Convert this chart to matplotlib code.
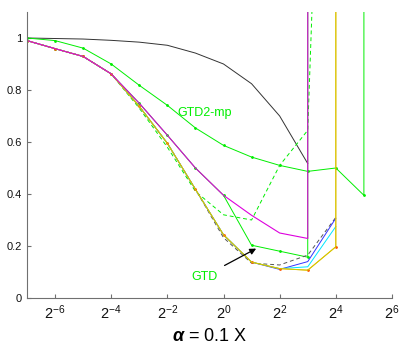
import numpy as np
import matplotlib
matplotlib.use('Agg')
import matplotlib.pyplot as plt

plt.rcParams['font.family'] = ['Liberation Sans', 'DejaVu Sans']
plt.rcParams['mathtext.fontset'] = 'custom'
plt.rcParams['mathtext.rm'] = 'Liberation Sans'
plt.rcParams['mathtext.it'] = 'Liberation Sans:italic'
plt.rcParams['mathtext.bf'] = 'Liberation Sans:bold'
plt.rcParams['mathtext.bfit'] = 'Liberation Sans:bold:italic'
plt.rcParams['mathtext.default'] = 'regular'

BIG = 1000.0  # runs off the top of the plot
nan = np.nan

# exponents of the step size, x = 2**k
k = [-7, -6, -5, -4, -3, -2, -1, 0, 1, 2, 3, 4, 5, 6]

td_black = [1.0, 0.998, 0.996, 0.991, 0.984, 0.972, 0.942, 0.90, 0.824, 0.70, 0.517, nan, nan, nan]
gtd2_mp = [1.0, 0.99, 0.961, 0.90, 0.818, 0.741, 0.654, 0.587, 0.542, 0.51, 0.487, 0.50, 0.395, BIG]
gtd = [0.99, 0.959, 0.929, 0.862, 0.749, 0.626, 0.50, 0.395, 0.203, 0.18, 0.157, BIG, nan, nan]
magenta = [0.99, 0.959, 0.929, 0.862, 0.749, 0.626, 0.50, 0.395, 0.318, 0.25, 0.229, BIG, nan, nan]
green_dash = [0.99, 0.959, 0.929, 0.862, 0.73, 0.58, 0.41, 0.32, 0.30, 0.51, 0.645, 3.7, nan, nan]
gray_dash = [0.99, 0.959, 0.929, 0.862, 0.737, 0.595, 0.418, 0.232, 0.134, 0.127, 0.165, 0.31, nan, nan]
blue = [0.99, 0.959, 0.929, 0.862, 0.737, 0.595, 0.418, 0.243, 0.138, 0.11, 0.14, 0.307, nan, nan]
cyan = [0.99, 0.959, 0.929, 0.862, 0.737, 0.595, 0.418, 0.243, 0.138, 0.113, 0.12, 0.275, nan, nan]
orange = [0.99, 0.959, 0.929, 0.862, 0.737, 0.595, 0.418, 0.243, 0.138, 0.113, 0.107, 0.197, BIG, nan]
yellow = [0.99, 0.959, 0.929, 0.862, 0.737, 0.595, 0.418, 0.243, 0.138, 0.113, 0.107, 0.197, BIG, nan]

ytick_vals = [0, 0.2, 0.4, 0.6, 0.8, 1.0]
ytick_labels = ['0', '0.2', '0.4', '0.6', '0.8', '1']
xtick_exps = [-6, -4, -2, 0, 2, 4, 6]

x = 2.0 ** np.array(k)

fig = plt.figure(figsize=(4.15, 3.58), dpi=100)
ax = fig.add_axes([0.065, 0.1676, 0.8795, 0.7989])

lw = 0.7
ms = 2
ax.plot(x, td_black, '-', color='#333333', lw=lw)
ax.plot(x, gtd2_mp, '.-', color='#00ee00', lw=lw, ms=ms)
ax.plot(x, gtd, '.-', color='#00ee00', lw=lw, ms=ms)
ax.plot(x, green_dash, '--', color='#00ee00', lw=lw, dashes=(4, 3))
ax.plot(x, gray_dash, '--', color='#555555', lw=lw, dashes=(4, 3))
ax.plot(x, blue, '-', color='#3333ff', lw=lw)
ax.plot(x, cyan, '-', color='#00e5ff', lw=lw)
ax.plot(x, orange, '.-', color='#ffaa00', lw=lw, ms=ms, mfc='#ff5500', mec='#ff5500')
ax.plot(x, yellow, '-', color='#cccc00', lw=lw)
ax.plot(x, magenta, '-', color='#dd00dd', lw=0.8)

ax.set_xscale('log', base=2)
ax.set_xlim(2.0 ** -7, 2.0 ** 6)
ax.set_ylim(0, 1.1)

ax.set_xticks([2.0 ** e for e in xtick_exps])
ax.set_xticklabels(['$2^{%d}$' % e for e in xtick_exps])
ax.xaxis.set_minor_locator(matplotlib.ticker.NullLocator())
ax.set_yticks(ytick_vals)
ax.set_yticklabels(ytick_labels)

for s in ['top', 'right']:
    ax.spines[s].set_visible(False)
for s in ['left', 'bottom']:
    ax.spines[s].set_color('#707070')
    ax.spines[s].set_linewidth(0.8)
ax.tick_params(direction='in', length=3, width=0.8, color='#707070',
               labelsize=8, labelcolor='#111111')
ax.tick_params(axis='x', labelsize=10.5, pad=4)

ax.text(2.0 ** -1.65, 0.70, 'GTD2-mp', color='#00ee00', fontsize=9)
ax.text(2.0 ** -1.15, 0.07, 'GTD', color='#00ee00', fontsize=9)
ax.annotate('', xy=(2.0 ** 1.25, 0.195), xytext=(2.0 ** -0.05, 0.12),
            arrowprops=dict(arrowstyle='-|>', color='black', lw=0.9,
                            mutation_scale=9))

ax.set_xlabel(r'$\boldsymbol{\alpha}$ = 0.1 X', fontsize=13, labelpad=4)

fig.savefig('out.png', dpi=100)
